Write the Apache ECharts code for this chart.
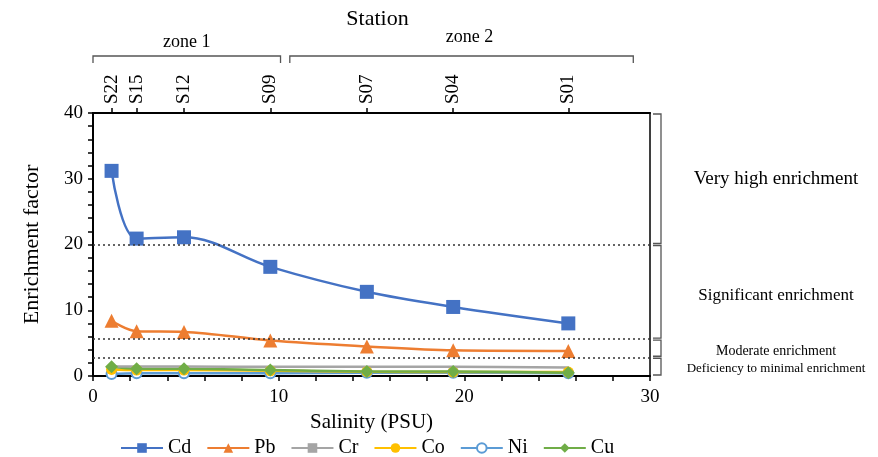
<!DOCTYPE html>
<html>
<head>
<meta charset="utf-8">
<script src="https://cdn.jsdelivr.net/npm/echarts@6/dist/echarts.min.js"></script>
<style>
    html, body { margin: 0; padding: 0; background: #fff; }
    #main { width: 878px; height: 457px; }
</style>
</head>
<body>
<div id="main"></div>
<script>
    // salinity (PSU) of each station and the station names
    const salinity = [1.0, 2.35, 4.9, 9.55, 14.75, 19.4, 25.6];
    const stations = ['S22', 'S15', 'S12', 'S09', 'S07', 'S04', 'S01'];

    // enrichment factor per metal
    const cd = [31.2, 20.9, 21.1, 16.6, 12.8, 10.5, 8.0];
    const pb = [8.4, 6.8, 6.7, 5.4, 4.5, 3.9, 3.8];
    const cr = [1.5, 1.45, 1.45, 1.4, 1.4, 1.4, 1.3];
    const co = [1.0, 0.9, 0.9, 0.8, 0.65, 0.6, 0.6];
    const ni = [0.3, 0.4, 0.4, 0.4, 0.5, 0.5, 0.4];
    const cu = [1.4, 1.1, 1.1, 0.9, 0.7, 0.7, 0.5];

    // class limits (dotted lines) and class names
    const thresholds = [20, 5.6, 2.85];
    const classNames = ['Very high enrichment', 'Significant enrichment', 'Moderate enrichment', 'Deficiency to minimal enrichment'];
    const classBounds = [[20, 40], [5.6, 20], [2.85, 5.6], [0, 2.85]];

    // zones along salinity
    const zoneNames = ['zone 1', 'zone 2'];
    const zoneBounds = [[0, 10.1], [10.6, 29.1]];

    const serif = '"Liberation Serif", "Times New Roman", serif';

    const chart = echarts.init(document.getElementById('main'));

    function pairs(arr) {
        return arr.map((v, i) => [salinity[i], v]);
    }

    function makeSeries(name, data, color, symbol, size, extra) {
        return Object.assign({
            name: name,
            type: 'line',
            smooth: 0.35,
            data: pairs(data),
            symbol: symbol,
            symbolSize: size,
            lineStyle: { color: color, width: 2.5 },
            itemStyle: { color: color },
            xAxisIndex: 0,
            yAxisIndex: 0,
            z: 3
        }, extra || {});
    }

    const option = {
        animation: false,
        backgroundColor: '#fff',
        textStyle: { fontFamily: serif, color: '#000' },
        grid: {
            left: 93, right: 228, top: 113, bottom: 81,
            show: true, borderColor: '#000', borderWidth: 1.5
        },
        legend: {
            bottom: -6,
            left: 115,
            itemWidth: 42,
            itemHeight: 12,
            itemGap: 15,
            textStyle: { fontFamily: serif, fontSize: 20, color: '#000' },
            data: ['Cd', 'Pb', 'Cr', 'Co', 'Ni', 'Cu']
        },
        xAxis: [
            {
                type: 'value',
                min: 0, max: 30, interval: 10,
                name: 'Salinity (PSU)',
                nameLocation: 'middle',
                nameGap: 22,
                nameTextStyle: { fontFamily: serif, fontSize: 21, color: '#000' },
                axisLine: { lineStyle: { color: '#000', width: 2 } },
                axisTick: { length: 5, lineStyle: { color: '#000', width: 1.5 } },
                minorTick: { show: true, splitNumber: 5, length: 5, lineStyle: { color: '#000', width: 1.5 } },
                axisLabel: { fontFamily: serif, fontSize: 19, color: '#000', margin: 12 },
                splitLine: { show: false }
            },
            {
                type: 'value',
                position: 'top',
                min: 0, max: 30,
                axisLine: { lineStyle: { color: '#000', width: 2 } },
                axisTick: { length: 5, customValues: salinity, lineStyle: { color: '#000', width: 1.5 } },
                axisLabel: {
                    customValues: salinity,
                    rotate: -90,
                    margin: 9,
                    fontFamily: serif, fontSize: 19, color: '#000',
                    formatter: function (v) {
                        const i = salinity.indexOf(v);
                        return i >= 0 ? stations[i] : '';
                    }
                },
                splitLine: { show: false }
            }
        ],
        yAxis: {
            type: 'value',
            min: 0, max: 40, interval: 10,
            name: 'Enrichment factor',
            nameLocation: 'middle',
            nameGap: 50,
            nameTextStyle: { fontFamily: serif, fontSize: 22, color: '#000' },
            axisLine: { show: true, lineStyle: { color: '#000', width: 2 } },
            axisTick: { show: true, length: 5, lineStyle: { color: '#000', width: 1.5 } },
            minorTick: { show: true, splitNumber: 5, length: 5, lineStyle: { color: '#000', width: 1.5 } },
            axisLabel: { fontFamily: serif, fontSize: 19, color: '#000', margin: 10 },
            splitLine: { show: false }
        },
        series: [
            makeSeries('Ni', ni, '#5B9BD5', 'emptyCircle', 10, {
                itemStyle: { color: '#5B9BD5', borderWidth: 1.5 }
            }),
            makeSeries('Co', co, '#FFC000', 'circle', 11),
            makeSeries('Cu', cu, '#70AD47', 'diamond', 13),
            makeSeries('Cr', cr, '#A5A5A5', 'rect', [10, 3], {
                showSymbol: false,
                markLine: {
                    silent: true,
                    symbol: ['none', 'none'],
                    label: { show: false },
                    lineStyle: { color: '#333', type: [2, 3], width: 1.5 },
                    data: thresholds.map(t => ({ yAxis: t }))
                }
            }),
            makeSeries('Pb', pb, '#ED7D31', 'triangle', 14),
            makeSeries('Cd', cd, '#4472C4', 'rect', 14)
        ]
    };

    chart.setOption(option);

    // brackets and annotation texts placed from data coordinates
    const graphics = [];
    const bracketStyle = { stroke: '#555', lineWidth: 1.3, fill: null };

    const midX = chart.convertToPixel({ xAxisIndex: 0 }, 15);
    graphics.push({
        type: 'text', x: midX + 6, y: 8,
        style: { text: 'Station', font: '22px ' + serif, fill: '#000', align: 'center' }
    });

    const zoneY = 56;
    const zoneLabelY = [33, 28];
    zoneBounds.forEach((b, i) => {
        const x1 = chart.convertToPixel({ xAxisIndex: 0 }, b[0]);
        const x2 = chart.convertToPixel({ xAxisIndex: 0 }, b[1]);
        graphics.push({
            type: 'polyline',
            shape: { points: [[x1, zoneY + 7], [x1, zoneY], [x2, zoneY], [x2, zoneY + 7]] },
            style: bracketStyle
        });
        graphics.push({
            type: 'text',
            x: (x1 + x2) / 2 + (i === 1 ? 8 : 0), y: zoneLabelY[i],
            style: { text: zoneNames[i], font: '18px ' + serif, fill: '#000', align: 'center' }
        });
    });

    const bx1 = 653, bx2 = 661;
    const classFont = [19, 17, 14, 13];
    const classShift = [0, 4, 3, 2];
    classBounds.forEach((b, i) => {
        const yTop = chart.convertToPixel({ yAxisIndex: 0 }, b[1]) + 1;
        const yBot = chart.convertToPixel({ yAxisIndex: 0 }, b[0]) - 1;
        graphics.push({
            type: 'polyline',
            shape: { points: [[bx1, yTop], [bx2, yTop], [bx2, yBot], [bx1, yBot]] },
            style: bracketStyle
        });
        graphics.push({
            type: 'text',
            x: 776, y: (yTop + yBot) / 2 + classShift[i],
            style: {
                text: classNames[i], font: classFont[i] + 'px ' + serif, fill: '#000',
                align: 'center', verticalAlign: 'middle'
            }
        });
    });

    chart.setOption({ graphic: graphics });
</script>
</body>
</html>
